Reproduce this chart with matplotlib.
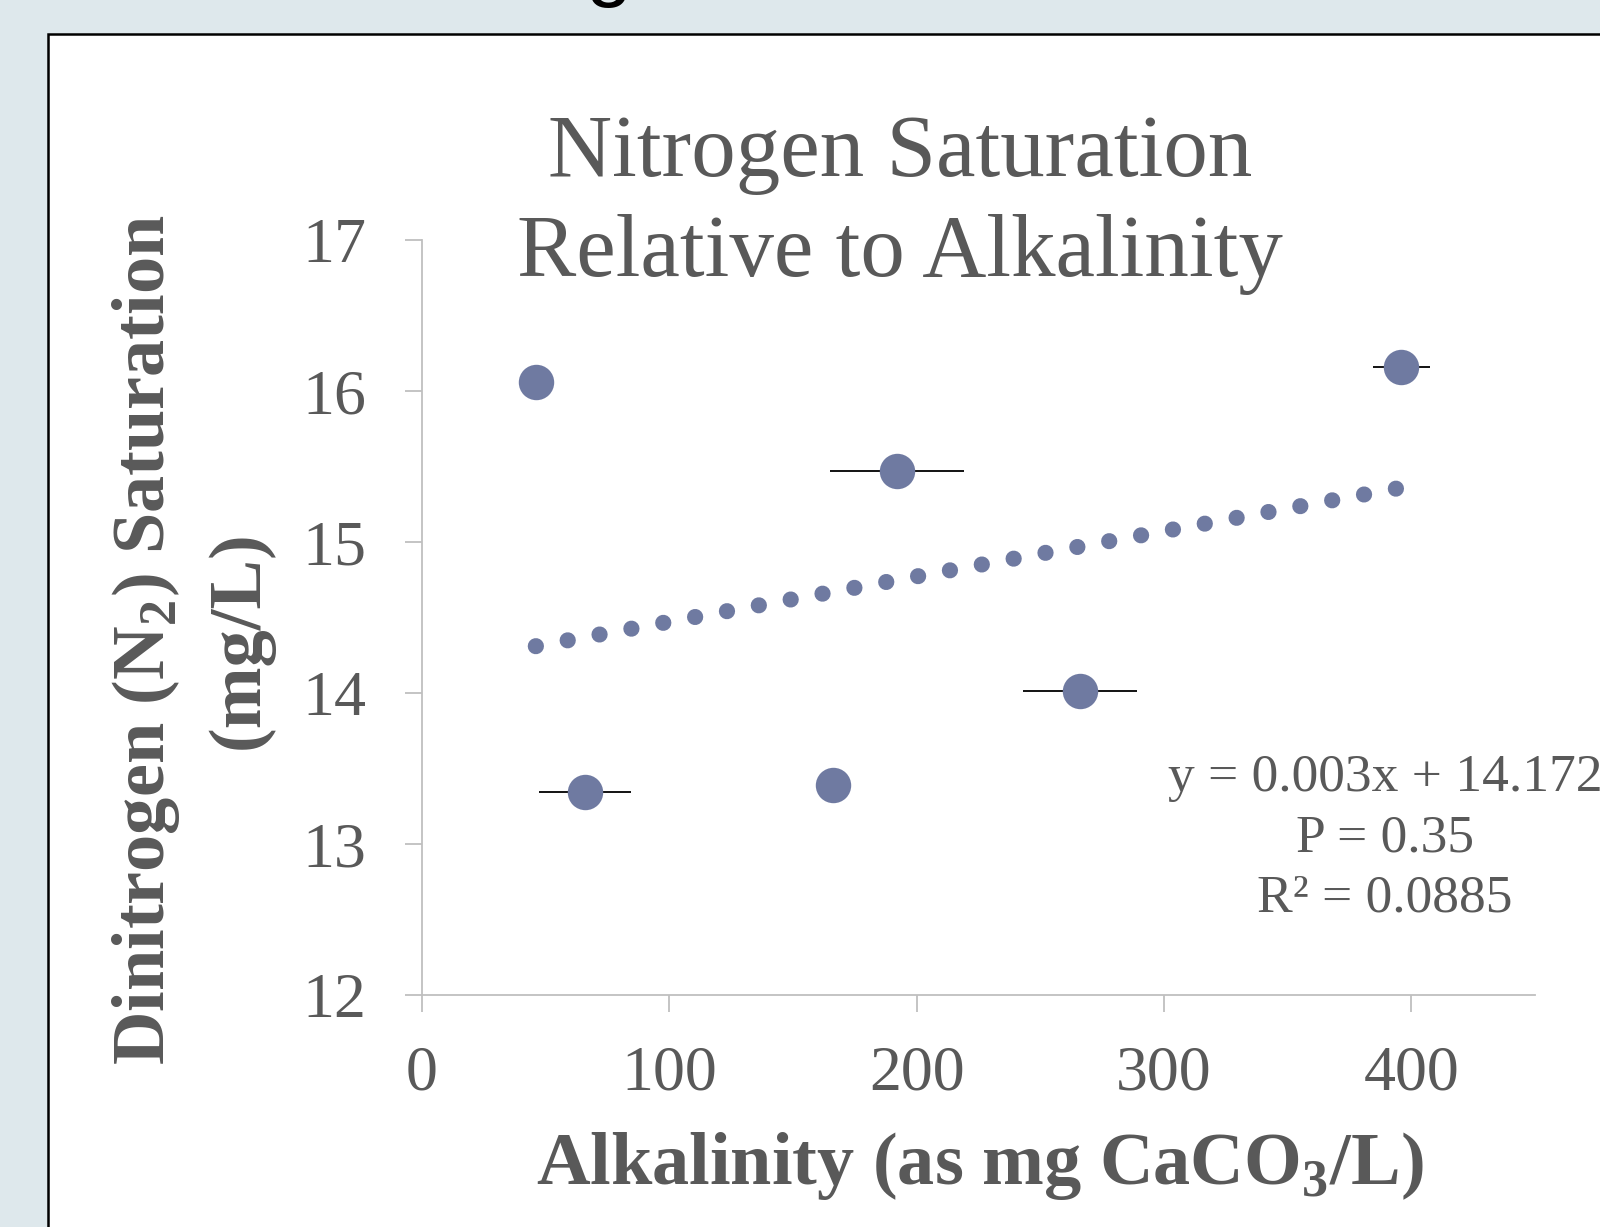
import matplotlib
import matplotlib.pyplot as plt
from matplotlib.patches import Rectangle

matplotlib.use("Agg")

# data
alkalinity = [46, 66, 166, 192, 266, 396]
n2_saturation = [16.06, 13.345, 13.39, 15.47, 14.01, 16.16]
alk_err = [0, 18.5, 0, 27, 23, 11.5]
slope, intercept = 0.003, 14.172
stats_lines = ["y = 0.003x + 14.172", "P = 0.35", "R\u00b2 = 0.0885"]
x_ticks = [0, 100, 200, 300, 400]
y_ticks = [12, 13, 14, 15, 16, 17]

W, H = 1600, 1227
GREY = "#595959"
POINT = "#6f7aa1"


def fx(px):
    return px / W


def fy(py):
    return 1 - py / H


plt.rcParams["font.family"] = ["Liberation Serif", "DejaVu Serif"]
plt.rcParams["mathtext.fontset"] = "custom"
plt.rcParams["mathtext.rm"] = "Liberation Serif"
plt.rcParams["mathtext.bf"] = "Liberation Serif:bold"

fig = plt.figure(figsize=(W / 100, H / 100), dpi=100, facecolor="#dee8ec")

# white panel with black frame
fig.patches.append(Rectangle((fx(48), fy(H + 20)), 1.2, (H + 20 - 34) / H,
                             transform=fig.transFigure, facecolor="white",
                             edgecolor="black", linewidth=1.8, zorder=-5))
# heading cut off above the panel
fig.text(fx(609), fy(-9), "g", fontsize=60, color="black",
         family=["Liberation Sans"], ha="center", va="baseline")

ax = fig.add_axes([fx(422), fy(995), fx(1535) - fx(422), (995 - 240) / H])
ax.set_facecolor("none")

fit_x = [min(alkalinity), max(alkalinity)]
fit_y = [slope * v + intercept for v in fit_x]
ax.plot(fit_x, fit_y, color=POINT, linewidth=11.6, linestyle=(0, (0.01, 2.0)),
        dash_capstyle="round", zorder=2)

ax.errorbar(alkalinity, n2_saturation, xerr=alk_err, fmt="none",
            ecolor="black", elinewidth=1.3, capsize=0, zorder=3)
ax.plot(alkalinity, n2_saturation, "o", color=POINT, markersize=25.5,
        markeredgewidth=0, zorder=4)

ax.set_xlim(0, 450)
ax.set_ylim(12, 17)
ax.set_xticks(x_ticks)
ax.set_yticks(y_ticks)
for side in ["top", "right"]:
    ax.spines[side].set_visible(False)
for side in ["left", "bottom"]:
    ax.spines[side].set_color("#bfbfbf")
    ax.spines[side].set_linewidth(1.3)
ax.tick_params(axis="both", colors="#bfbfbf", labelcolor=GREY, labelsize=46,
               length=12, width=1.3)
ax.tick_params(axis="x", pad=24)
ax.tick_params(axis="y", pad=28)

# title
fig.text(fx(900), fy(176), "Nitrogen Saturation", fontsize=64, color=GREY,
         ha="center", va="baseline")
fig.text(fx(900), fy(276), "Relative to Alkalinity", fontsize=64, color=GREY,
         ha="center", va="baseline")

# axis labels
fig.text(fx(146), fy(640), r"Dinitrogen (N$_\mathbf{2}$) Saturation",
         fontsize=53.5, fontweight="bold", color=GREY, rotation=90,
         ha="center", va="center")
fig.text(fx(240), fy(640), "(mg/L)", fontsize=53.5, fontweight="bold",
         color=GREY, rotation=90, ha="center", va="center")
fig.text(fx(980), fy(1184), r"Alkalinity (as mg CaCO$_\mathbf{3}$/L)",
         fontsize=53.5, fontweight="bold", color=GREY, ha="center",
         va="baseline")

# regression stats
for i, line in enumerate(stats_lines):
    fig.text(fx(1385), fy(791 + 60 * i), line, fontsize=38.5, color=GREY,
             ha="center", va="baseline")

fig.savefig("out.png", dpi=100, facecolor=fig.get_facecolor())
plt.close(fig)
